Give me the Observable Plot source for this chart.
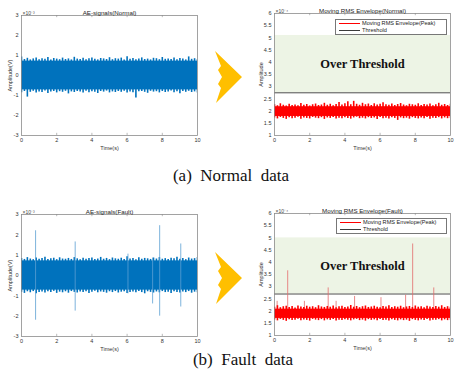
<!DOCTYPE html>
<html><head><meta charset="utf-8">
<script src="https://cdn.jsdelivr.net/npm/d3@7"></script>
<script src="https://cdn.jsdelivr.net/npm/@observablehq/plot@0.6"></script>
<style>
html,body{margin:0;padding:0;background:#fff;}
#root{position:relative;width:460px;height:378px;overflow:hidden;font-family:"Liberation Sans",Arial,sans-serif;}
.pan{position:absolute;}
.cap{position:absolute;font-family:"Liberation Serif","Times New Roman",serif;font-size:17px;color:#111;white-space:pre;transform:translate(-50%,-50%);}
.leg{position:absolute;background:#fff;border:0.8px solid #777;font-size:5.6px;color:#222;box-sizing:border-box;}
.leg div{position:relative;height:7px;line-height:7px;padding-left:26px;}
.leg span{position:absolute;left:3px;top:3px;width:21px;height:1px;}
</style></head><body><div id="root"></div>
<script>
// ---------- data ----------
const timeDomain = [0, 10];
const timeTicks = [0, 2, 4, 6, 8, 10];
const aeTicks = [-3, -2, -1, 0, 1, 2, 3];
const rmsTicks = [1, 1.5, 2, 2.5, 3, 3.5, 4, 4.5, 5, 5.5, 6];

// AE signal (Normal), x10^-3 V: dense core band and per-sample peak envelope
const aeNormalCore = [-0.72, 0.72];
const aeNormalUp = [0.92,0.80,0.86,0.78,0.83,0.88,0.79,0.84,0.81,0.90,0.77,0.85,0.82,0.79,0.87,0.80,0.83,0.78,0.91,0.82,0.80,0.86,0.79,0.84,0.88,0.81,0.78,0.85,0.83,0.80,0.89,0.79,0.84,0.82,0.87,0.78,0.94,0.81,0.85,0.79,0.83,0.88,0.80,0.82,0.78,0.86,0.84,0.79,0.90,0.81,0.83,0.80,0.87,0.79,0.85,0.82,0.78,0.93,0.81,0.84,0.80];
const aeNormalLo = [-0.86,-0.80,-1.08,-0.84,-0.79,-0.88,-0.82,-0.85,-0.78,-0.90,-0.83,-0.80,-0.87,-0.81,-0.84,-0.79,-0.92,-0.82,-0.85,-0.80,-0.83,-0.88,-0.79,-0.86,-0.81,-0.84,-0.90,-0.80,-0.83,-0.78,-0.87,-0.82,-0.85,-0.80,-0.84,-0.79,-0.88,-0.83,-0.86,-1.12,-0.81,-0.80,-0.84,-0.89,-0.79,-0.83,-0.81,-0.87,-0.80,-0.85,-0.82,-0.78,-0.86,-0.81,-0.91,-0.80,-0.84,-0.79,-0.85,-0.82,-0.88];

// AE signal (Fault), x10^-3 V
const aeFaultCore = [-0.72, 0.72];
const aeFaultUp = [0.84,0.79,0.88,0.81,0.78,0.86,0.80,0.83,0.90,0.79,0.82,0.85,0.78,0.87,0.81,0.80,0.84,0.79,0.88,0.82,0.78,0.85,0.80,0.83,0.86,0.79,0.81,0.89,0.80,0.84,0.78,0.86,0.82,0.80,0.85,0.79,0.92,0.81,0.83,0.78,0.87,0.80,0.84,0.82,0.79,0.86,0.81,0.88,0.80,0.83,0.79,0.85,0.82,0.90,0.80,0.84,0.78,0.86,0.81,0.83,0.88];
const aeFaultLo = [-0.82,-0.88,-0.80,-0.85,-0.79,-0.90,-0.83,-0.81,-0.86,-0.80,-0.84,-0.78,-0.88,-0.82,-0.85,-0.80,-0.87,-0.79,-0.83,-0.86,-0.81,-0.84,-0.80,-0.89,-0.82,-0.78,-0.85,-0.81,-0.83,-0.87,-0.80,-0.84,-0.79,-0.86,-0.82,-0.80,-0.88,-0.83,-0.81,-0.85,-0.79,-0.84,-0.90,-0.80,-0.83,-0.86,-0.81,-0.85,-0.79,-0.84,-0.82,-0.88,-0.80,-0.83,-0.86,-0.81,-0.84,-0.79,-0.87,-0.82,-0.85];
const aeSpikeT  = [0.8, 3.05, 6.05, 7.45, 7.85, 9.05];
const aeSpikeHi = [2.2, 1.65, 1.05, 0.85, 2.45, 1.55];
const aeSpikeLo = [-2.2, -1.75, -0.9, -1.4, -2.0, -1.55];

// Moving RMS envelope (Normal), x10^-4
const rmsNormalCore = [1.78, 2.18];
const rmsNormalUp = [2.26,2.22,2.30,2.24,2.21,2.28,2.23,2.25,2.22,2.31,2.24,2.27,2.21,2.26,2.29,2.23,2.25,2.32,2.24,2.28,2.22,2.27,2.35,2.25,2.30,2.38,2.26,2.40,2.28,2.24,2.32,2.26,2.29,2.23,2.30,2.25,2.28,2.34,2.26,2.24,2.29,2.23,2.27,2.31,2.25,2.22,2.28,2.26,2.24,2.30,2.23,2.27,2.25,2.29,2.22,2.26,2.32,2.24,2.27,2.23,2.28];
const rmsNormalLo = [1.72,1.68,1.74,1.70,1.66,1.73,1.69,1.71,1.75,1.67,1.72,1.70,1.68,1.74,1.71,1.69,1.73,1.66,1.72,1.70,1.74,1.68,1.71,1.69,1.73,1.70,1.67,1.72,1.75,1.69,1.71,1.68,1.73,1.70,1.72,1.66,1.74,1.69,1.71,1.68,1.73,1.70,1.62,1.72,1.69,1.71,1.67,1.73,1.70,1.68,1.72,1.69,1.74,1.67,1.71,1.70,1.73,1.68,1.72,1.69,1.71];
const rmsNormalThreshold = 2.75;
const rmsNormalOverTop = 5.1;

// Moving RMS envelope (Fault), x10^-4
const rmsFaultCore = [1.70, 2.08];
const rmsFaultUp = [2.16,2.22,2.14,2.18,2.20,2.15,2.19,2.13,2.21,2.17,2.15,2.20,2.16,2.18,2.14,2.22,2.17,2.15,2.19,2.16,2.21,2.14,2.18,2.20,2.15,2.17,2.23,2.16,2.19,2.14,2.18,2.21,2.15,2.17,2.20,2.16,2.14,2.19,2.17,2.22,2.15,2.18,2.16,2.20,2.14,2.17,2.19,2.15,2.21,2.16,2.18,2.14,2.20,2.17,2.15,2.19,2.16,2.22,2.15,2.18,2.16];
const rmsFaultLo = [1.64,1.60,1.66,1.62,1.58,1.65,1.61,1.63,1.67,1.60,1.64,1.62,1.59,1.66,1.63,1.61,1.65,1.60,1.64,1.62,1.66,1.59,1.63,1.61,1.65,1.62,1.60,1.64,1.66,1.61,1.63,1.59,1.65,1.62,1.64,1.60,1.66,1.61,1.63,1.59,1.65,1.62,1.60,1.64,1.61,1.63,1.58,1.65,1.62,1.60,1.64,1.61,1.66,1.59,1.63,1.62,1.65,1.60,1.64,1.61,1.63];
const rmsSpikeT = [0.15, 0.75, 1.7, 3.05, 3.5, 4.55, 6.05, 7.45, 7.85, 9.05];
const rmsSpikeV = [2.4, 3.65, 2.4, 2.95, 2.4, 2.6, 2.55, 2.65, 4.75, 2.95];
const rmsFaultThreshold = 2.7;
const rmsFaultOverTop = 5.0;

// ---------- styles ----------
const blue = "#0072BD", blueSpike = "#5c9fd3";
const red = "#ff0000", redSpike = "#e36b6b";
const overFill = "#edf4e5";
const thrColor = "#3a3a3a";
const FONT = "Liberation Sans, Arial, sans-serif";
const fmt = d => String(d);

function rowsOf(up, lo) {
  const n = up.length;
  return up.map((u, i) => ({t: timeDomain[0] + (timeDomain[1] - timeDomain[0]) * i / (n - 1), up: u, lo: lo[i]}));
}

function panel(opts) {
  const {left, top, width, height, mt, mb, ml, mr, yDomain, yTicks, title, exp, ylabel, ylabelOffset, marks} = opts;
  const svg = Plot.plot({
    width, height, marginTop: mt, marginBottom: mb, marginLeft: ml, marginRight: mr,
    style: {fontFamily: FONT, background: "transparent", color: "#333"},
    x: {domain: timeDomain},
    y: {domain: yDomain},
    marks: [
      ...marks,
      Plot.frame({stroke: "#8c8c8c", strokeWidth: 0.8}),
      Plot.axisX({ticks: timeTicks, tickSize: 0, tickPadding: 3, fontSize: 5.5, tickFormat: fmt, label: "Time(s)", labelAnchor: "center", labelOffset: 14, labelArrow: "none"}),
      Plot.axisY({ticks: yTicks, tickSize: 0, tickPadding: 3, fontSize: 5.5, tickFormat: fmt, label: ylabel, labelAnchor: "center", labelOffset: ylabelOffset, labelArrow: "none"}),
      Plot.ruleX(timeTicks.slice(1, -1), {x: d => d, y1: yDomain[1], y2: yDomain[1] - (yDomain[1] - yDomain[0]) * 0.018, stroke: "#8c8c8c", strokeWidth: 0.6}),
      Plot.ruleX(timeTicks.slice(1, -1), {x: d => d, y1: yDomain[0], y2: yDomain[0] + (yDomain[1] - yDomain[0]) * 0.018, stroke: "#8c8c8c", strokeWidth: 0.6}),
      Plot.text([title], {frameAnchor: "top", dy: -5, fontSize: 6.2, fill: "#222"}),
      Plot.text([exp], {frameAnchor: "top-left", dy: -4, dx: 1, textAnchor: "start", fontSize: 5, fill: "#444"})
    ]
  });
  const d = document.createElement("div");
  d.className = "pan";
  d.style.left = left + "px"; d.style.top = top + "px";
  d.appendChild(svg);
  document.getElementById("root").appendChild(d);
}

function aeMarks(up, lo, core, spikes) {
  const rows = rowsOf(up, lo);
  const m = [
    Plot.ruleX(rows, {x: "t", y1: "lo", y2: "up", stroke: blue, strokeWidth: 1.6, clip: true}),
    Plot.rect([core], {x1: timeDomain[0], x2: timeDomain[1], y1: d => d[0], y2: d => d[1], fill: blue})
  ];
  if (spikes) {
    m.push(Plot.ruleX(spikes.t.map((t, i) => ({t, hi: spikes.hi[i], lo: spikes.lo[i]})), {x: "t", y1: "lo", y2: "hi", stroke: blueSpike, strokeWidth: 0.8}));
  }
  return m;
}

function rmsMarks(up, lo, core, thr, overTop, spikes) {
  const rows = rowsOf(up, lo);
  const m = [
    Plot.rect([[thr, overTop]], {x1: timeDomain[0], x2: timeDomain[1], y1: d => d[0], y2: d => d[1], fill: overFill}),
    Plot.ruleY([thr], {stroke: thrColor, strokeWidth: 0.9}),
    Plot.text(["Over Threshold"], {x: (timeDomain[0] + timeDomain[1]) / 2, y: (thr + overTop) / 2, fontFamily: "Liberation Serif, Times New Roman, serif", fontWeight: "bold", fontSize: 12.5, fill: "#111"}),
  ];
  if (spikes) {
    m.push(Plot.ruleX(spikes.t.map((t, i) => ({t, v: spikes.v[i]})), {x: "t", y1: core[0], y2: "v", stroke: redSpike, strokeWidth: 0.8}));
  }
  m.push(
    Plot.ruleX(rows, {x: "t", y1: "lo", y2: "up", stroke: red, strokeWidth: 1.6, clip: true}),
    Plot.rect([core], {x1: timeDomain[0], x2: timeDomain[1], y1: d => d[0], y2: d => d[1], fill: red})
  );
  return m;
}

panel({left: 0, top: 0, width: 212, height: 155, mt: 15, mb: 20, ml: 21, mr: 15,
  yDomain: [-3, 3], yTicks: aeTicks, title: "AE-signals(Normal)", exp: "×10⁻³", ylabel: "Amplitude(V)", ylabelOffset: 13,
  marks: aeMarks(aeNormalUp, aeNormalLo, aeNormalCore)});

panel({left: 245, top: 0, width: 215, height: 155, mt: 13, mb: 20, ml: 29, mr: 10,
  yDomain: [1, 6], yTicks: rmsTicks, title: "Moving RMS Envelope(Normal)", exp: "×10⁻⁴", ylabel: "Amplitude", ylabelOffset: 15,
  marks: rmsMarks(rmsNormalUp, rmsNormalLo, rmsNormalCore, rmsNormalThreshold, rmsNormalOverTop)});

panel({left: 0, top: 190, width: 212, height: 165, mt: 24, mb: 19, ml: 21, mr: 15,
  yDomain: [-3, 3], yTicks: aeTicks, title: "AE-signals(Fault)", exp: "×10⁻³", ylabel: "Amplitude(V)", ylabelOffset: 13,
  marks: aeMarks(aeFaultUp, aeFaultLo, aeFaultCore, {t: aeSpikeT, hi: aeSpikeHi, lo: aeSpikeLo})});

panel({left: 245, top: 190, width: 215, height: 165, mt: 23, mb: 20, ml: 29, mr: 10,
  yDomain: [1, 6], yTicks: rmsTicks, title: "Moving RMS Envelope(Fault)", exp: "×10⁻⁴", ylabel: "Amplitude", ylabelOffset: 15,
  marks: rmsMarks(rmsFaultUp, rmsFaultLo, rmsFaultCore, rmsFaultThreshold, rmsFaultOverTop, {t: rmsSpikeT, v: rmsSpikeV})});

// legends
function legend(left, top, w) {
  const l = document.createElement("div");
  l.className = "leg";
  l.style.left = left + "px"; l.style.top = top + "px"; l.style.width = w + "px";
  l.innerHTML = `<div><span style="background:${red}"></span>Moving RMS Envelope(Peak)</div><div><span style="background:${thrColor}"></span>Threshold</div>`;
  document.getElementById("root").appendChild(l);
}
legend(335, 19, 112);
legend(336, 218, 111);

// arrows
function arrow(top) {
  const ns = "http://www.w3.org/2000/svg";
  const s = document.createElementNS(ns, "svg");
  s.setAttribute("width", 32); s.setAttribute("height", 54);
  s.style.position = "absolute"; s.style.left = "212px"; s.style.top = top + "px";
  const p = document.createElementNS(ns, "path");
  p.setAttribute("d", "M3,0 L30,26 L4,52 L9,37 L6,33 L10,26 L6,19 L9,15 Z");
  p.setAttribute("fill", "#FFBF00");
  s.appendChild(p);
  document.getElementById("root").appendChild(s);
}
arrow(51);
arrow(252);

// captions
function caption(text, x, y) {
  const c = document.createElement("div");
  c.className = "cap"; c.textContent = text;
  c.style.left = x + "px"; c.style.top = y + "px";
  document.getElementById("root").appendChild(c);
}
caption("(a)  Normal  data", 231, 176);
caption("(b)  Fault  data", 243, 360);
</script></body></html>
